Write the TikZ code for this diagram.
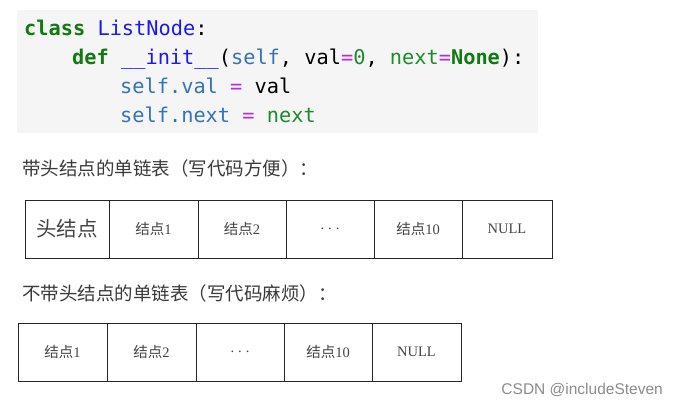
\documentclass[tikz,border=0pt]{standalone}
\usepackage{fontspec}
\setmainfont{Liberation Serif}
\newfontfamily\cjk{Noto Sans CJK SC}
\newfontfamily\codefont[WordSpace={1,0,0}]{DejaVu Sans Mono}
\newfontfamily\wmfont{Liberation Sans}
\definecolor{kwgreen}{HTML}{107A10}
\definecolor{clsblue}{HTML}{1A1AF0}
\definecolor{selfblue}{HTML}{3573B5}
\definecolor{eqpurple}{HTML}{B030E0}
\definecolor{nxgreen}{HTML}{1F8A2E}
\definecolor{codebg}{HTML}{F5F5F5}
\definecolor{txtgray}{HTML}{3A3A3A}
\definecolor{celltxt}{HTML}{444444}
\definecolor{wmgray}{HTML}{8C8C8C}
\begin{document}
\begin{tikzpicture}[x=1pt,y=-1pt,
  codeline/.style={anchor=base west,inner sep=0pt,font=\codefont\fontsize{20.3}{24}\selectfont},
  heading/.style={anchor=west,inner sep=0pt,text=txtgray,font=\cjk\fontsize{18.5}{21}\selectfont},
  cell/.style={draw=black!85,line width=0.9pt,fill=white,minimum height=58pt,inner sep=0pt,text=celltxt,font=\fontsize{14.5}{16}\selectfont},
]
\useasboundingbox (0,0) rectangle (676,405);
\fill[white] (0,0) rectangle (676,405);
% code box
\fill[codebg] (17,10) rectangle (538,133);
\node[codeline] (l1) at (24,35) {\textcolor{kwgreen}{\bfseries class} \textcolor{clsblue}{ListNode}:};
\node[codeline] (l2) at (72,64) {\textcolor{kwgreen}{\bfseries def} \textcolor{clsblue}{\_\_init\_\_}(\textcolor{selfblue}{self}, val\textcolor{eqpurple}{=}\textcolor{nxgreen}{0}, \textcolor{nxgreen}{next}\textcolor{eqpurple}{=}\textcolor{kwgreen}{\bfseries None}):};
\node[codeline] (l3) at (120,93) {\textcolor{selfblue}{self.val} \textcolor{eqpurple}{=} val};
\node[codeline] (l4) at (120,122) {\textcolor{selfblue}{self.next} \textcolor{eqpurple}{=} \textcolor{nxgreen}{next}};
% headings
\node[heading] (t1) at (22,168) {带头结点的单链表（写代码方便）：};
\node[heading] (t2) at (22,293) {不带头结点的单链表（写代码麻烦）：};
% table 1
\fill[white] (18,194) rectangle (558,264);
\node[cell,minimum width=84pt] (a0) at (67,229) {\cjk\fontsize{20.5}{22}\selectfont 头结点};
\node[cell,minimum width=89pt] (a1) at (153.5,229) {{\cjk 结点}1};
\node[cell,minimum width=88pt] (a2) at (242,229) {{\cjk 结点}2};
\node[cell,minimum width=88pt] (a3) at (330,229) {.\hspace{4pt}.\hspace{4pt}.};
\node[cell,minimum width=88pt] (a4) at (418,229) {{\cjk 结点}10};
\node[cell,minimum width=90pt] (a5) at (507,229) {NULL};
% table 2
\fill[white] (12,317) rectangle (468,388);
\node[cell,minimum width=89pt] (b1) at (62.5,352) {{\cjk 结点}1};
\node[cell,minimum width=89pt] (b2) at (151.5,352) {{\cjk 结点}2};
\node[cell,minimum width=88pt] (b3) at (240,352) {.\hspace{4pt}.\hspace{4pt}.};
\node[cell,minimum width=88pt] (b4) at (328,352) {{\cjk 结点}10};
\node[cell,minimum width=89pt] (b5) at (416.5,352) {NULL};
% watermark
\node[anchor=east,inner sep=0pt,text=wmgray,font=\wmfont\fontsize{15.5}{18}\selectfont] (wm) at (663,390) {CSDN @includeSteven};
\end{tikzpicture}
\end{document}
